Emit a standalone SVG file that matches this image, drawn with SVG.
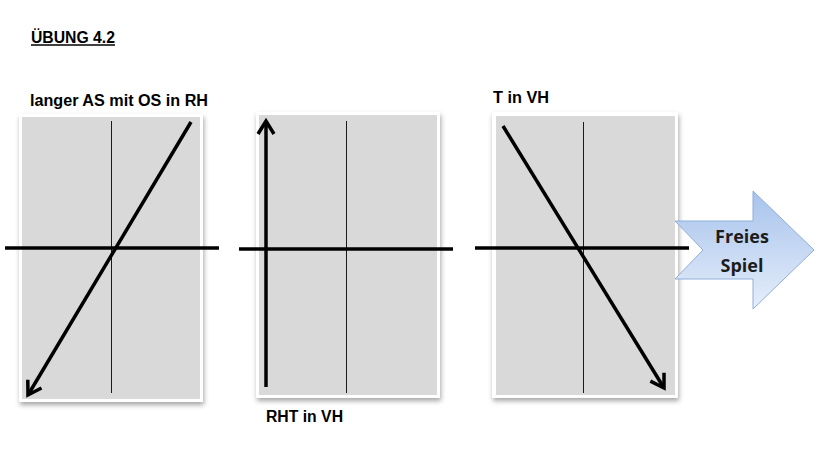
<svg xmlns="http://www.w3.org/2000/svg" width="820" height="453" viewBox="0 0 820 453">
  <style>
    .lbl { font-family: "Liberation Sans", Arial, sans-serif; font-weight: bold; font-size: 16px; fill: #000; }
    .frame { fill: #ffffff; filter: url(#shadow); }
    .paper { fill: #d9d9d9; }
    .axisv { stroke: #1a1a1a; stroke-width: 1; fill: none; }
    .axish { stroke: #000; stroke-width: 3.5; fill: none; }
    .vec { stroke: #000; stroke-width: 3.5; fill: none; marker-end: url(#open); }
    .big { font-family: "Open Sans", "Lato", sans-serif; font-weight: bold; font-size: 18px; fill: #1c1c1c; text-anchor: middle; }
  </style>
  <defs>
    <filter id="shadow" x="-10%" y="-10%" width="125%" height="125%">
      <feDropShadow dx="1" dy="3" stdDeviation="2.5" flood-color="#000" flood-opacity="0.35"/>
    </filter>
    <marker id="open" viewBox="-16 -10 18 20" refX="0" refY="0" markerWidth="18" markerHeight="20" markerUnits="userSpaceOnUse" orient="auto" overflow="visible">
      <path d="M-13,-8 L0,0 L-13,8" fill="none" stroke="#000" stroke-width="3.5" stroke-linejoin="miter"/>
    </marker>
    <linearGradient id="blue" x1="0" y1="0" x2="0" y2="1">
      <stop offset="0" stop-color="#a7c3ec"/>
      <stop offset="1" stop-color="#e6eefa"/>
    </linearGradient>
  </defs>

  <rect width="820" height="453" fill="#ffffff"/>

  <g id="title">
    <text class="lbl" x="31" y="43" textLength="84" lengthAdjust="spacingAndGlyphs">ÜBUNG 4.2</text>
    <line x1="31" y1="45" x2="115" y2="45" stroke="#000" stroke-width="1.4"/>
  </g>

  <g id="panel1">
    <rect class="frame" x="19" y="114" width="184" height="288"/>
    <rect class="paper" x="22" y="117" width="178" height="282"/>
    <line class="axisv" x1="111.5" y1="121" x2="111.5" y2="393"/>
    <text class="lbl" x="30" y="106" textLength="178" lengthAdjust="spacingAndGlyphs">langer AS mit OS in RH</text>
  </g>

  <g id="panel2">
    <rect class="frame" x="256" y="112" width="184" height="286"/>
    <rect class="paper" x="259" y="115" width="178" height="280"/>
    <line class="axisv" x1="346.5" y1="121" x2="346.5" y2="393"/>
    <text class="lbl" x="266" y="422" textLength="77" lengthAdjust="spacingAndGlyphs">RHT in VH</text>
  </g>

  <g id="panel3">
    <rect class="frame" x="492" y="112" width="186" height="286"/>
    <rect class="paper" x="496" y="116" width="179" height="279"/>
    <line class="axisv" x1="583.5" y1="122" x2="583.5" y2="393"/>
    <text class="lbl" x="493" y="103" textLength="56" lengthAdjust="spacingAndGlyphs">T in VH</text>
  </g>

  <g id="connectors">
    <line class="axish" x1="5" y1="248" x2="219" y2="248"/>
    <line class="vec" x1="191" y1="122" x2="28" y2="395"/>
    <line class="axish" x1="239" y1="249" x2="453" y2="249"/>
    <line class="vec" x1="266" y1="387" x2="266" y2="121"/>
    <line class="axish" x1="475" y1="248" x2="689" y2="248"/>
    <line class="vec" x1="503" y1="126" x2="664" y2="388"/>
  </g>

  <g id="freies-spiel">
    <path d="M675,221 L753,221 L753,191 L814,250 L753,309 L753,279 L675,279 L703,250 Z" fill="url(#blue)" stroke="#8eaedb" stroke-width="1"/>
    <text class="big" x="742" y="243">Freies</text>
    <text class="big" x="742" y="272">Spiel</text>
  </g>
</svg>
